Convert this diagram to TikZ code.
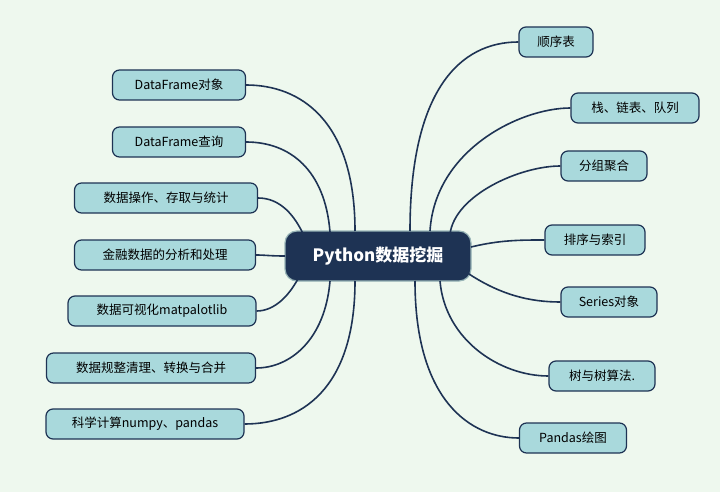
\documentclass[tikz,border=0pt]{standalone}
\usepackage{fontspec}
\setmainfont{Noto Sans CJK SC}
\begin{document}
\begin{tikzpicture}[x=1pt,y=-1pt,
  leaf/.style={draw=navy,line width=1.2pt,fill=leaffill,rounded corners=7pt,minimum height=30pt,inner xsep=4pt,font=\fontsize{12.5}{14}\selectfont,text=black},
  link/.style={draw=navy,line width=1.6pt}]
\definecolor{navy}{HTML}{1E3354}
\definecolor{leaffill}{HTML}{A9D9DC}
\definecolor{bg}{HTML}{EEF8EE}
\useasboundingbox (0,0) rectangle (720,492);
\fill[bg] (0,0) rectangle (720,492);
\node[draw=leaffill!60!gray,line width=1.2pt,fill=navy,rounded corners=12pt,minimum width=186pt,minimum height=50pt,text=white,font=\fontsize{17}{20}\selectfont\bfseries] (c) at (378,256) {Python数据挖掘};
\node[leaf,minimum width=133pt] (l1) at (179,85) {DataFrame对象};
\node[leaf,minimum width=133pt] (l2) at (179,142) {DataFrame查询};
\node[leaf,minimum width=183pt] (l3) at (166,198) {数据操作、存取与统计};
\node[leaf,minimum width=181pt] (l4) at (165,255) {金融数据的分析和处理};
\node[leaf,minimum width=188pt] (l5) at (162,311) {数据可视化matpalotlib};
\node[leaf,minimum width=209pt] (l6) at (151,368) {数据规整清理、转换与合并};
\node[leaf,minimum width=198pt] (l7) at (145,424) {科学计算numpy、pandas};
\node[leaf,minimum width=74pt] (r1) at (556,42) {顺序表};
\node[leaf,minimum width=128pt] (r2) at (635,108) {栈、链表、队列};
\node[leaf,minimum width=86pt] (r3) at (604,166) {分组聚合};
\node[leaf,minimum width=100pt] (r4) at (595,240) {排序与索引};
\node[leaf,minimum width=96pt] (r5) at (609,302) {Series对象};
\node[leaf,minimum width=106pt] (r6) at (602,376) {树与树算法.};
\node[leaf,minimum width=107pt] (r7) at (573,438) {Pandas绘图};
\coordinate (s1) at (355,231);
\coordinate (s2) at (330,232);
\coordinate (s3) at (305,238);
\coordinate (s4) at (285,256);
\coordinate (s5) at (300,275);
\coordinate (s6) at (330,281);
\coordinate (s7) at (355,281);
\coordinate (t1) at (410,231);
\coordinate (t2) at (430,231);
\coordinate (t3) at (450,234);
\coordinate (t4) at (471,247);
\coordinate (t5) at (466,272);
\coordinate (t6) at (440,281);
\coordinate (t7) at (415,281);
\draw[link] (s1) .. controls (355,120) and (300,85) .. (l1.east);
\draw[link] (s2) .. controls (325,170) and (290,142) .. (l2.east);
\draw[link] (s3) .. controls (295,215) and (280,198) .. (l3.east);
\draw[link] (s4) .. controls (270,256) and (265,255) .. (l4.east);
\draw[link] (s5) .. controls (290,295) and (275,311) .. (l5.east);
\draw[link] (s6) .. controls (325,340) and (290,368) .. (l6.east);
\draw[link] (s7) .. controls (355,390) and (300,424) .. (l7.east);
\draw[link] (t1) .. controls (410,90) and (460,42) .. (r1.west);
\draw[link] (t2) .. controls (435,150) and (520,108) .. (r2.west);
\draw[link] (t3) .. controls (455,195) and (520,166) .. (r3.west);
\draw[link] (t4) .. controls (500,240) and (520,240) .. (r4.west);
\draw[link] (t5) .. controls (500,295) and (530,302) .. (r5.west);
\draw[link] (t6) .. controls (445,340) and (500,376) .. (r6.west);
\draw[link] (t7) .. controls (415,400) and (470,438) .. (r7.west);
\end{tikzpicture}
\end{document}
